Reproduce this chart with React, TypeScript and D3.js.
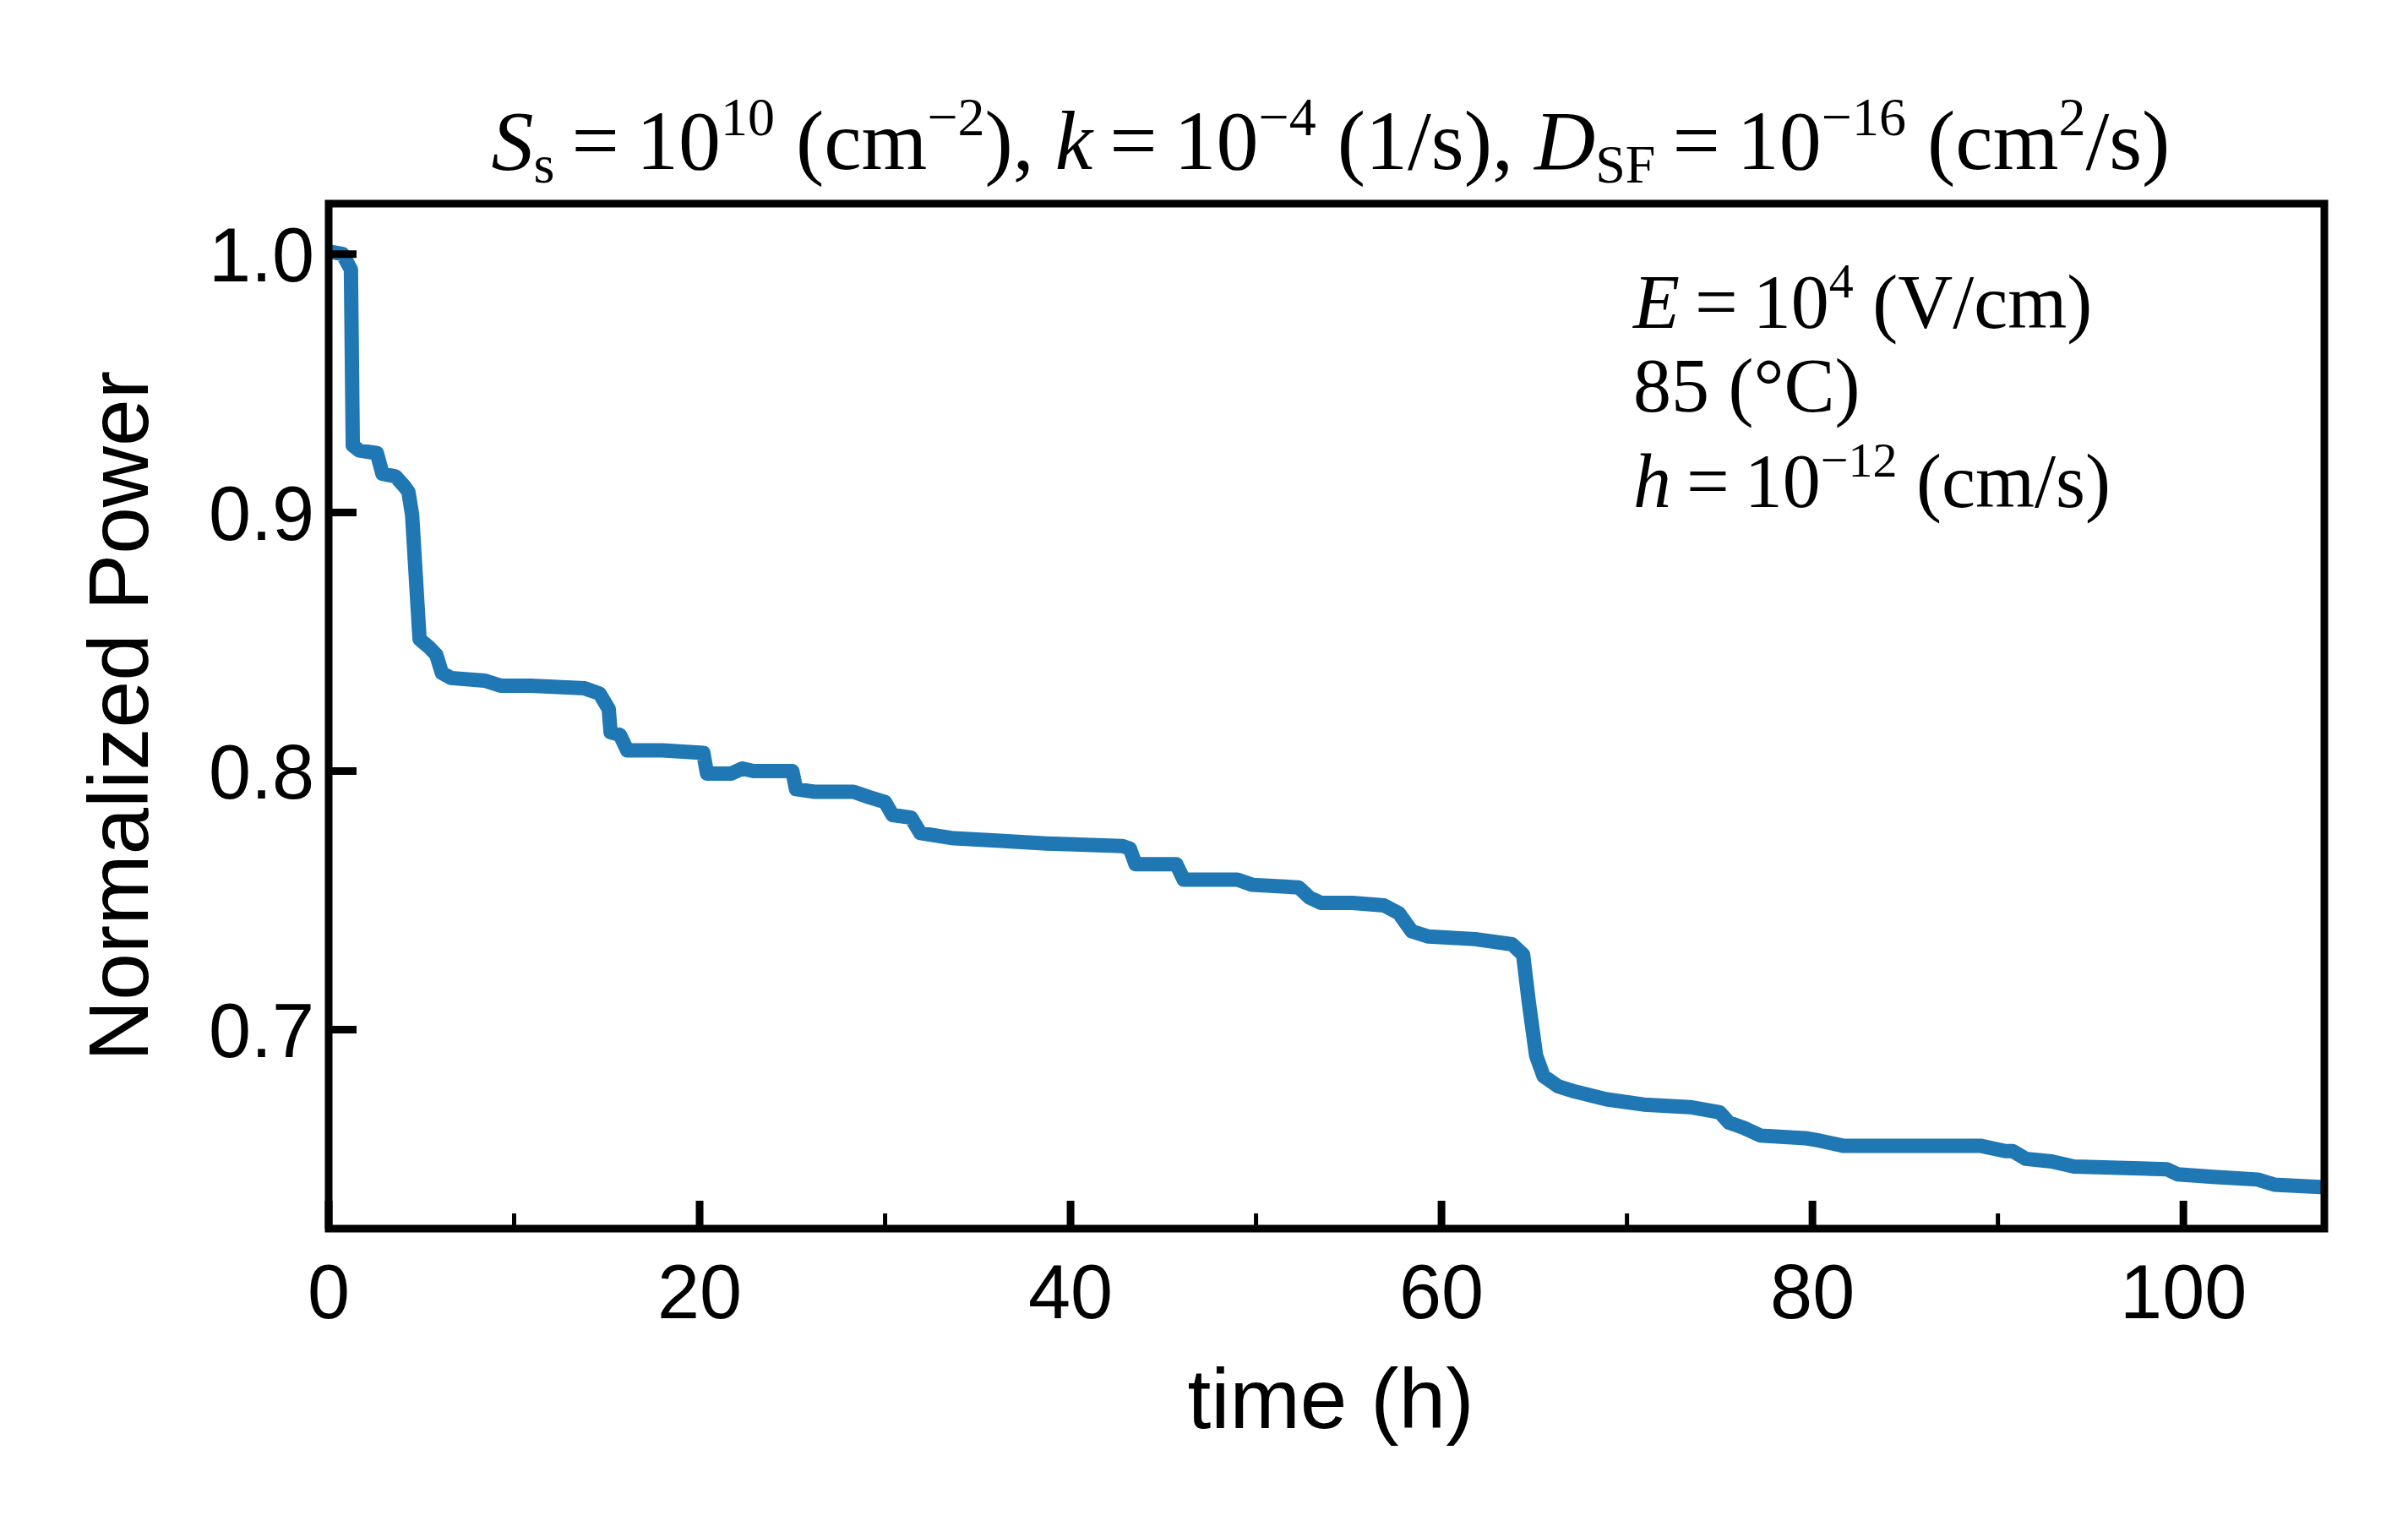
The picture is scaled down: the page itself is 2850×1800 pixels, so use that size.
import React from "react";
import * as d3 from "d3";

const times = [0,0.75,1.2,1.3,1.65,2.6,2.9,3.6,4.1,4.3,4.5,4.9,5.4,5.8,6.1,6.6,8.4,9.3,10.9,13.8,14.6,15.1,15.2,15.7,16.1,18,20.2,20.4,21.7,22.3,22.9,25,25.2,26.2,28.3,29.1,30,30.4,31.4,31.9,33.7,36.2,38.7,42.8,43.2,43.5,45.7,46.1,49,49.8,52.3,52.9,53.5,55.2,56.9,57.7,58.4,59.3,61.8,63.8,64.4,64.7,65.1,65.5,66.3,67.2,68.9,70.9,73.4,75,75.5,76.3,77.2,79.6,80.4,81.7,85.8,89.1,90.4,90.8,91.5,92.9,94.1,99.1,99.7,101.6,104,104.9,107.6];
const power = [1.001,1.0,0.994,0.926,0.924,0.923,0.915,0.914,0.91,0.908,0.899,0.851,0.848,0.845,0.838,0.836,0.835,0.833,0.833,0.832,0.830,0.824,0.815,0.814,0.808,0.808,0.807,0.799,0.799,0.801,0.800,0.800,0.793,0.792,0.792,0.790,0.788,0.783,0.782,0.776,0.774,0.773,0.772,0.771,0.770,0.764,0.764,0.758,0.758,0.756,0.755,0.751,0.749,0.749,0.748,0.745,0.738,0.736,0.735,0.733,0.729,0.711,0.690,0.682,0.678,0.676,0.673,0.671,0.670,0.668,0.664,0.662,0.659,0.658,0.657,0.655,0.655,0.655,0.653,0.653,0.650,0.649,0.647,0.646,0.644,0.643,0.642,0.640,0.639];
const xMajor = [0,20,40,60,80,100];
const xMinor = [10,30,50,70,90];
const yMajor = [0.7,0.8,0.9,1.0];

export default function App() {
  const W = 2850, H = 1800;
  const L = 389, R = 2762 - 11, T = 241, B = 1454;
  const x = d3.scaleLinear().domain([0, 107.6]).range([L, R]);
  const y = d3.scaleLinear().domain([0.623, 1.0195]).range([B, T]);
  const line = d3.line<number>().x((_, i) => x(times[i])).y((d) => y(d));
  const sans = "Liberation Sans, Arial, sans-serif";
  const serif = "Liberation Serif, Times New Roman, serif";
  const sub = 64, sup = 64;
  return (
    <svg width={W} height={H} style={{ display: "block", position: "absolute", left: 0, top: 0 }}>
      <rect width={W} height={H} fill="white" />
      <defs><clipPath id="c"><rect x={L} y={T} width={R - L} height={B - T} /></clipPath></defs>
      <path d={line(power) || ""} fill="none" stroke="#1f77b4" strokeWidth={17} strokeLinejoin="round" strokeLinecap="round" clipPath="url(#c)" />
      <rect x={L} y={T} width={R - L} height={B - T} fill="none" stroke="black" strokeWidth={9} />
      {xMajor.map((t) => (
        <g key={t}>
          <line x1={x(t)} x2={x(t)} y1={B} y2={B - 33} stroke="black" strokeWidth={9} />
          <text x={x(t)} y={1560} fontFamily={sans} fontSize={90} textAnchor="middle">{t}</text>
        </g>
      ))}
      {xMinor.map((t) => (
        <line key={t} x1={x(t)} x2={x(t)} y1={B} y2={B - 18} stroke="black" strokeWidth={5} />
      ))}
      {yMajor.map((v) => (
        <g key={v}>
          <line x1={L} x2={L + 33} y1={y(v)} y2={y(v)} stroke="black" strokeWidth={9} />
          <text x={372} y={y(v)} dy="0.36em" fontFamily={sans} fontSize={90} textAnchor="end">{v.toFixed(1)}</text>
        </g>
      ))}
      <text x={1575} y={1690} fontFamily={sans} fontSize={100} textAnchor="middle">time (h)</text>
      <text transform={`translate(175,${(T + B) / 2}) rotate(-90)`} fontFamily={sans} fontSize={100} textAnchor="middle">Normalized Power</text>
      <text x={1575} y={200} fontFamily={serif} fontSize={100} textAnchor="middle">
        <tspan fontStyle="italic">S</tspan><tspan fontSize={sub} dy={16}>s</tspan><tspan dy={-16}>{"\u2009=\u200910"}</tspan><tspan fontSize={sup} dy={-40}>10</tspan><tspan dy={40}> (cm</tspan><tspan fontSize={sup} dy={-40}>−2</tspan><tspan dy={40}>), </tspan>
        <tspan fontStyle="italic">k</tspan><tspan>{"\u2009=\u200910"}</tspan><tspan fontSize={sup} dy={-40}>−4</tspan><tspan dy={40}> (1/s), </tspan>
        <tspan fontStyle="italic">D</tspan><tspan fontSize={sub} dy={16}>SF</tspan><tspan dy={-16}>{"\u2009=\u200910"}</tspan><tspan fontSize={sup} dy={-40}>−16</tspan><tspan dy={40}> (cm</tspan><tspan fontSize={sup} dy={-40}>2</tspan><tspan dy={40}>/s)</tspan>
      </text>
      <g fontFamily={serif} fontSize={90}>
        <text x={1933} y={388}><tspan fontStyle="italic">E</tspan><tspan>{"\u2009=\u200910"}</tspan><tspan fontSize={58} dy={-36}>4</tspan><tspan dy={36}> (V/cm)</tspan></text>
        <text x={1933} y={487}>85 (°C)</text>
        <text x={1933} y={600}><tspan fontStyle="italic">h</tspan><tspan>{"\u2009=\u200910"}</tspan><tspan fontSize={58} dy={-36}>−12</tspan><tspan dy={36}> (cm/s)</tspan></text>
      </g>
    </svg>
  );
}
